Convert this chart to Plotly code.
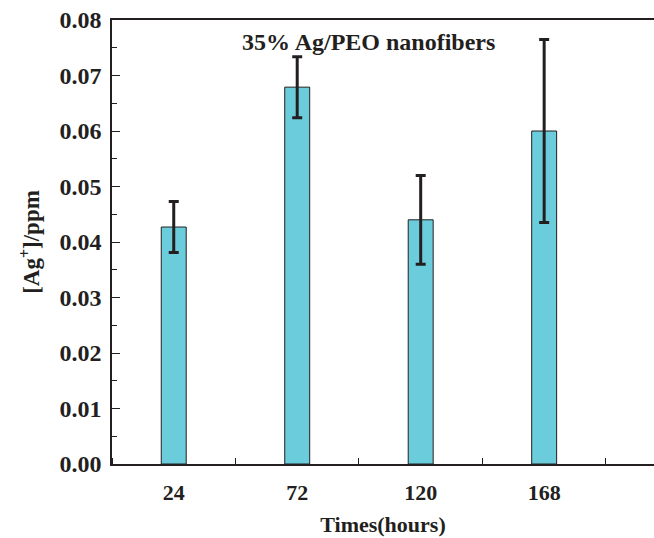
import plotly.graph_objects as go

hours = [24, 72, 120, 168]
tick_labels = ["24", "72", "120", "168"]
ag_ppm = [0.0427, 0.0679, 0.0440, 0.0600]
ag_err = [0.0046, 0.0055, 0.0080, 0.0165]

FONT = "Liberation Serif"
INK = "#231f20"

fig = go.Figure(
    go.Bar(
        x=hours,
        y=ag_ppm,
        width=9.7,
        marker=dict(color="#6BCDDB", line=dict(color=INK, width=1)),
        error_y=dict(type="data", array=ag_err, color=INK, thickness=3, width=5),
    )
)

fig.update_layout(
    width=654,
    height=538,
    margin=dict(l=112, r=0, t=20, b=74, autoexpand=False),
    plot_bgcolor="white",
    paper_bgcolor="white",
    showlegend=False,
    font=dict(family=FONT, color=INK, weight="bold"),
    annotations=[
        dict(
            text="35% Ag/PEO nanofibers",
            x=0.474, y=0.985, xref="paper", yref="paper",
            xanchor="center", yanchor="top",
            showarrow=False, font=dict(size=24, family=FONT, color=INK, weight="bold"),
        )
    ],
)

fig.update_xaxes(
    range=[0, 210.7],
    tickvals=hours,
    ticktext=tick_labels,
    tickfont=dict(size=22, family=FONT, color=INK, weight="bold"),
    ticks="",
    ticklabelstandoff=8,
    showgrid=False,
    zeroline=False,
    automargin=False,
    showline=True, linecolor=INK, linewidth=1.5, mirror=True,
    minor=dict(tick0=0, dtick=48, ticks="inside", ticklen=6, tickcolor=INK, showgrid=False),
    title=dict(text="Times(hours)", font=dict(size=22, family=FONT, color=INK, weight="bold"), standoff=12),
)

fig.update_yaxes(
    range=[0, 0.08],
    dtick=0.01,
    tickformat=".2f",
    tickfont=dict(size=24, family=FONT, color=INK, weight="bold"),
    ticks="inside", ticklen=8, tickcolor=INK, tickwidth=1.2,
    ticklabelstandoff=4,
    showgrid=False,
    zeroline=False,
    automargin=False,
    showline=True, linecolor=INK, linewidth=1.5, mirror=True,
    minor=dict(dtick=0.005, ticks="inside", ticklen=5, tickcolor=INK, showgrid=False),
    title=dict(text="[Ag<sup>+</sup>]/ppm", font=dict(size=23, family=FONT, color=INK, weight="bold"), standoff=13),
)

fig.write_html(
    "out.html",
    config={"displayModeBar": False},
    post_script=(
        "document.documentElement.style.overflow='hidden';"
        "document.body.style.margin='0';document.body.style.overflow='hidden';"
    ),
)
